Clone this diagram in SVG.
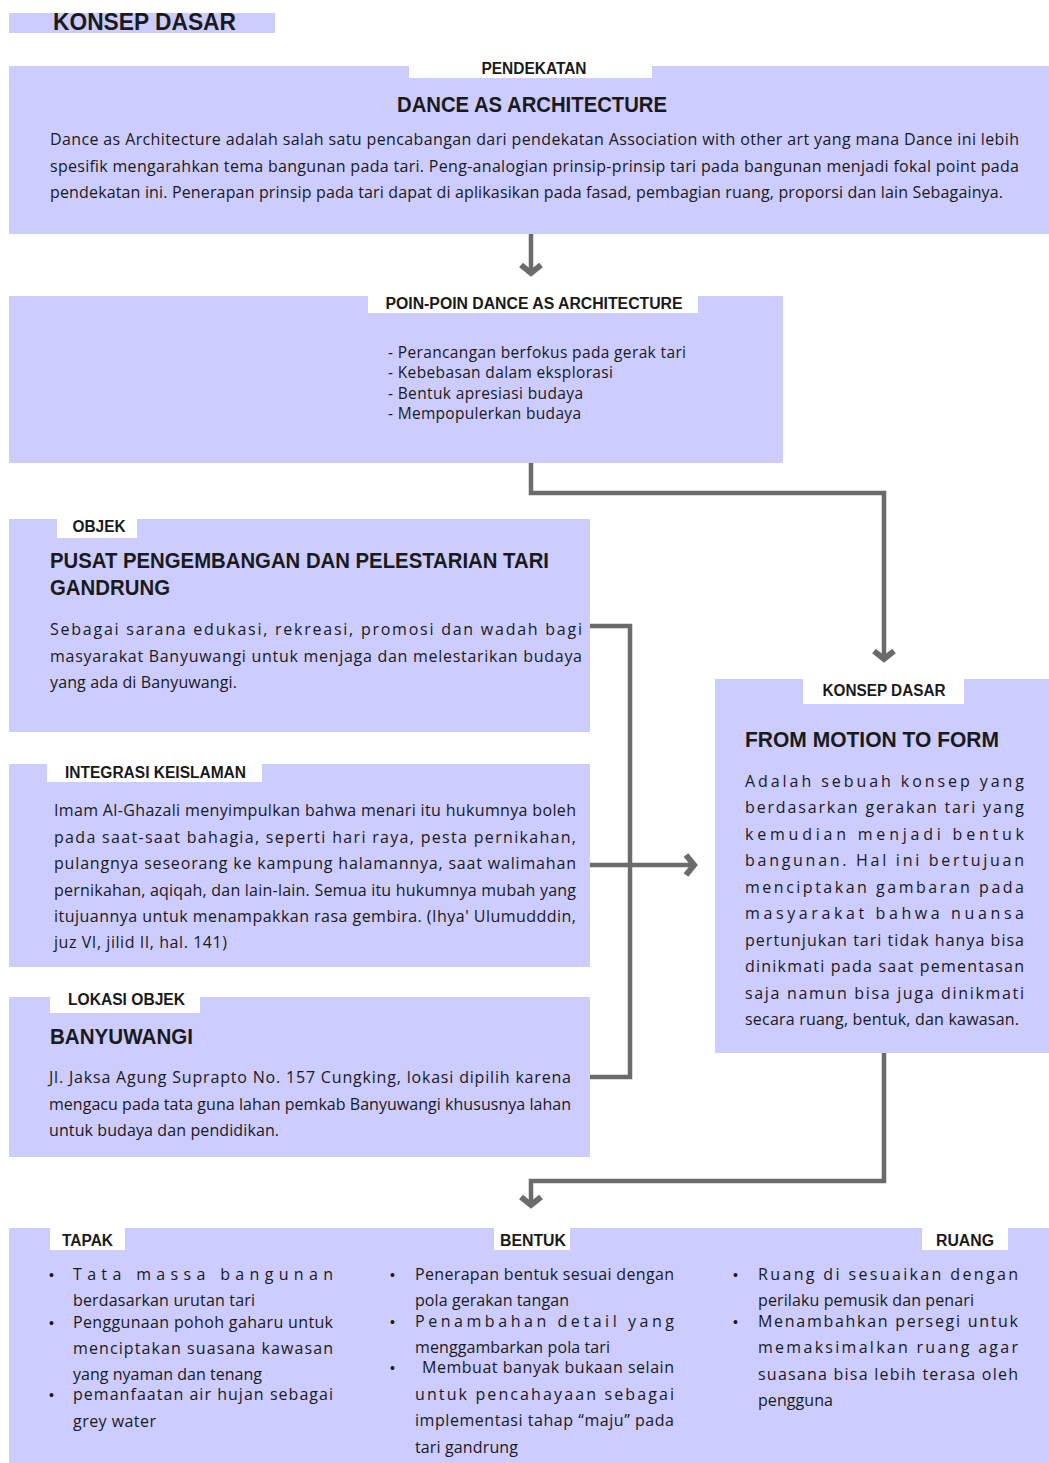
<svg xmlns="http://www.w3.org/2000/svg" width="1049" height="1463" viewBox="0 0 1049 1463">
<style>
.box{fill:#ccccff}
.tab{fill:#ffffff}
.t{font-family:"Liberation Sans","DejaVu Sans",sans-serif;fill:#1a1a1a}
.lbl{font-size:16px;font-weight:bold}
.hd{font-size:22px;font-weight:bold}
.bd{font-family:"Open Sans","Liberation Sans",sans-serif;font-size:16px}
.ls{font-family:"Open Sans","Liberation Sans",sans-serif;font-size:15.5px}
.bl{font-size:14px}
.con{fill:none;stroke:#6b6b6b;stroke-width:4.5}
</style>
<defs>
<marker id="chev" viewBox="-14 -14 28 28" markerWidth="28" markerHeight="28" refX="0" refY="0" orient="auto" markerUnits="userSpaceOnUse">
<polyline points="-7,-10 1,0 -7,10" fill="none" stroke="#6b6b6b" stroke-width="6"/>
</marker>
</defs>
<rect width="1049" height="1463" fill="#ffffff"/>

<g id="title">
<rect class="box" x="9" y="13" width="266" height="20"/>
<text class="t" x="53" y="30" font-size="24" font-weight="bold" textLength="183" lengthAdjust="spacingAndGlyphs">KONSEP DASAR</text>
</g>

<g id="connectors">
<path class="con" d="M531,234 V272" marker-end="url(#chev)"/>
<path class="con" d="M531,463 V493 H884 V658" marker-end="url(#chev)"/>
<path class="con" d="M590,626 H630 V1077 H590"/>
<path class="con" d="M590,865 H693" marker-end="url(#chev)"/>
<path class="con" d="M884,1053 V1181 H531 V1204" marker-end="url(#chev)"/>
</g>

<g id="pendekatan">
<rect class="box" x="9" y="66" width="1040" height="168"/>
<rect class="tab" x="409" y="60" width="243" height="18"/>
<text class="t lbl" x="534" y="74" text-anchor="middle" textLength="105" lengthAdjust="spacingAndGlyphs">PENDEKATAN</text>
<text class="t hd" x="532" y="112" text-anchor="middle" textLength="270" lengthAdjust="spacingAndGlyphs">DANCE AS ARCHITECTURE</text>
<text class="t bd" x="50" y="145" textLength="969" lengthAdjust="spacing">Dance as Architecture adalah salah satu pencabangan dari pendekatan Association with other art yang mana Dance ini lebih</text>
<text class="t bd" x="50" y="172" textLength="969" lengthAdjust="spacing">spesifik mengarahkan tema bangunan pada tari. Peng-analogian prinsip-prinsip tari pada bangunan menjadi fokal point pada</text>
<text class="t bd" x="50" y="198" textLength="953" lengthAdjust="spacing">pendekatan ini. Penerapan prinsip pada tari dapat di aplikasikan pada fasad, pembagian ruang, proporsi dan lain Sebagainya.</text>
</g>

<g id="poin">
<rect class="box" x="9" y="296" width="774" height="167"/>
<rect class="tab" x="368" y="290" width="330" height="23"/>
<text class="t lbl" x="534" y="309" text-anchor="middle" textLength="297" lengthAdjust="spacingAndGlyphs">POIN-POIN DANCE AS ARCHITECTURE</text>
<text class="t ls" x="388" y="358" textLength="298" lengthAdjust="spacing">- Perancangan berfokus pada gerak tari</text>
<text class="t ls" x="388" y="378" textLength="225" lengthAdjust="spacing">- Kebebasan dalam eksplorasi</text>
<text class="t ls" x="388" y="399" textLength="195" lengthAdjust="spacing">- Bentuk apresiasi budaya</text>
<text class="t ls" x="388" y="419" textLength="193" lengthAdjust="spacing">- Mempopulerkan budaya</text>
</g>

<g id="objek">
<rect class="box" x="9" y="519" width="581" height="213"/>
<rect class="tab" x="57" y="515" width="80" height="23"/>
<text class="t lbl" x="99" y="532" text-anchor="middle" textLength="53" lengthAdjust="spacingAndGlyphs">OBJEK</text>
<text class="t hd" x="50" y="568" textLength="499" lengthAdjust="spacingAndGlyphs">PUSAT PENGEMBANGAN DAN PELESTARIAN TARI</text>
<text class="t hd" x="50" y="595" textLength="120" lengthAdjust="spacingAndGlyphs">GANDRUNG</text>
<text class="t bd" x="50" y="635" textLength="532" lengthAdjust="spacing">Sebagai sarana edukasi, rekreasi, promosi dan wadah bagi</text>
<text class="t bd" x="50" y="662" textLength="532" lengthAdjust="spacing">masyarakat Banyuwangi untuk menjaga dan melestarikan budaya</text>
<text class="t bd" x="50" y="688" textLength="187" lengthAdjust="spacing">yang ada di Banyuwangi.</text>
</g>

<g id="integrasi">
<rect class="box" x="9" y="764" width="581" height="203"/>
<rect class="tab" x="47" y="760" width="215" height="22"/>
<text class="t lbl" x="65" y="778" textLength="181" lengthAdjust="spacingAndGlyphs">INTEGRASI KEISLAMAN</text>
<text class="t bd" x="54" y="816" textLength="522" lengthAdjust="spacing">Imam Al-Ghazali menyimpulkan bahwa menari itu hukumnya boleh</text>
<text class="t bd" x="54" y="843" textLength="522" lengthAdjust="spacing">pada saat-saat bahagia, seperti hari raya, pesta pernikahan,</text>
<text class="t bd" x="54" y="869" textLength="522" lengthAdjust="spacing">pulangnya seseorang ke kampung halamannya, saat walimahan</text>
<text class="t bd" x="54" y="896" textLength="522" lengthAdjust="spacing">pernikahan, aqiqah, dan lain-lain. Semua itu hukumnya mubah yang</text>
<text class="t bd" x="54" y="922" textLength="522" lengthAdjust="spacing">itujuannya untuk menampakkan rasa gembira. (Ihya' Ulumudddin,</text>
<text class="t bd" x="54" y="948" textLength="173" lengthAdjust="spacing">juz VI, jilid II, hal. 141)</text>
</g>

<g id="lokasi">
<rect class="box" x="9" y="997" width="581" height="160"/>
<rect class="tab" x="50" y="992" width="150" height="21"/>
<text class="t lbl" x="68" y="1005" textLength="117" lengthAdjust="spacingAndGlyphs">LOKASI OBJEK</text>
<text class="t hd" x="50" y="1044" textLength="143" lengthAdjust="spacingAndGlyphs">BANYUWANGI</text>
<text class="t bd" x="49" y="1083" textLength="522" lengthAdjust="spacing">Jl. Jaksa Agung Suprapto No. 157 Cungking, lokasi dipilih karena</text>
<text class="t bd" x="49" y="1110" textLength="522" lengthAdjust="spacing">mengacu pada tata guna lahan pemkab Banyuwangi khususnya lahan</text>
<text class="t bd" x="49" y="1136" textLength="230" lengthAdjust="spacing">untuk budaya dan pendidikan.</text>
</g>

<g id="konsep">
<rect class="box" x="715" y="679" width="334" height="374"/>
<rect class="tab" x="803" y="675" width="161" height="29"/>
<text class="t lbl" x="884" y="696" text-anchor="middle" textLength="123" lengthAdjust="spacingAndGlyphs">KONSEP DASAR</text>
<text class="t hd" x="745" y="747" textLength="254" lengthAdjust="spacingAndGlyphs">FROM MOTION TO FORM</text>
<text class="t bd" x="745" y="787" textLength="279" lengthAdjust="spacing">Adalah sebuah konsep yang</text>
<text class="t bd" x="745" y="813" textLength="279" lengthAdjust="spacing">berdasarkan gerakan tari yang</text>
<text class="t bd" x="745" y="840" textLength="279" lengthAdjust="spacing">kemudian menjadi bentuk</text>
<text class="t bd" x="745" y="866" textLength="279" lengthAdjust="spacing">bangunan. Hal ini bertujuan</text>
<text class="t bd" x="745" y="893" textLength="279" lengthAdjust="spacing">menciptakan gambaran pada</text>
<text class="t bd" x="745" y="919" textLength="279" lengthAdjust="spacing">masyarakat bahwa nuansa</text>
<text class="t bd" x="745" y="946" textLength="279" lengthAdjust="spacing">pertunjukan tari tidak hanya bisa</text>
<text class="t bd" x="745" y="972" textLength="279" lengthAdjust="spacing">dinikmati pada saat pementasan</text>
<text class="t bd" x="745" y="999" textLength="279" lengthAdjust="spacing">saja namun bisa juga dinikmati</text>
<text class="t bd" x="745" y="1025" textLength="274" lengthAdjust="spacing">secara ruang, bentuk, dan kawasan.</text>
</g>

<g id="penerapan">
<rect class="box" x="9" y="1228" width="1040" height="235"/>
<rect class="tab" x="50" y="1228" width="75" height="22"/>
<rect class="tab" x="494" y="1228" width="76" height="22"/>
<rect class="tab" x="922" y="1228" width="86" height="22"/>
<text class="t lbl" x="62" y="1246" textLength="51" lengthAdjust="spacingAndGlyphs">TAPAK</text>
<text class="t lbl" x="500" y="1246" textLength="66" lengthAdjust="spacingAndGlyphs">BENTUK</text>
<text class="t lbl" x="936" y="1246" textLength="58" lengthAdjust="spacingAndGlyphs">RUANG</text>

<text class="t bl" x="49" y="1280">•</text>
<text class="t bd" x="73" y="1280" textLength="260" lengthAdjust="spacing">Tata massa bangunan</text>
<text class="t bd" x="73" y="1306" textLength="182" lengthAdjust="spacing">berdasarkan urutan tari</text>
<text class="t bl" x="49" y="1328">•</text>
<text class="t bd" x="73" y="1328" textLength="260" lengthAdjust="spacing">Penggunaan pohoh gaharu untuk</text>
<text class="t bd" x="73" y="1354" textLength="260" lengthAdjust="spacing">menciptakan suasana kawasan</text>
<text class="t bd" x="73" y="1380" textLength="189" lengthAdjust="spacing">yang nyaman dan tenang</text>
<text class="t bl" x="49" y="1400">•</text>
<text class="t bd" x="73" y="1400" textLength="260" lengthAdjust="spacing">pemanfaatan air hujan sebagai</text>
<text class="t bd" x="73" y="1427" textLength="83" lengthAdjust="spacing">grey water</text>

<text class="t bl" x="390" y="1280">•</text>
<text class="t bd" x="415" y="1280" textLength="259" lengthAdjust="spacing">Penerapan bentuk sesuai dengan</text>
<text class="t bd" x="415" y="1306" textLength="154" lengthAdjust="spacing">pola gerakan tangan</text>
<text class="t bl" x="390" y="1327">•</text>
<text class="t bd" x="415" y="1327" textLength="259" lengthAdjust="spacing">Penambahan detail yang</text>
<text class="t bd" x="415" y="1353" textLength="195" lengthAdjust="spacing">menggambarkan pola tari</text>
<text class="t bl" x="390" y="1373">•</text>
<text class="t bd" x="422" y="1373" textLength="252" lengthAdjust="spacing">Membuat banyak bukaan selain</text>
<text class="t bd" x="415" y="1400" textLength="259" lengthAdjust="spacing">untuk pencahayaan sebagai</text>
<text class="t bd" x="415" y="1426" textLength="259" lengthAdjust="spacing">implementasi tahap “maju” pada</text>
<text class="t bd" x="415" y="1453" textLength="103" lengthAdjust="spacing">tari gandrung</text>

<text class="t bl" x="733" y="1280">•</text>
<text class="t bd" x="758" y="1280" textLength="260" lengthAdjust="spacing">Ruang di sesuaikan dengan</text>
<text class="t bd" x="758" y="1306" textLength="216" lengthAdjust="spacing">perilaku pemusik dan penari</text>
<text class="t bl" x="733" y="1327">•</text>
<text class="t bd" x="758" y="1327" textLength="260" lengthAdjust="spacing">Menambahkan persegi untuk</text>
<text class="t bd" x="758" y="1353" textLength="260" lengthAdjust="spacing">memaksimalkan ruang agar</text>
<text class="t bd" x="758" y="1380" textLength="260" lengthAdjust="spacing">suasana bisa lebih terasa oleh</text>
<text class="t bd" x="758" y="1406" textLength="75" lengthAdjust="spacing">pengguna</text>
</g>
</svg>
